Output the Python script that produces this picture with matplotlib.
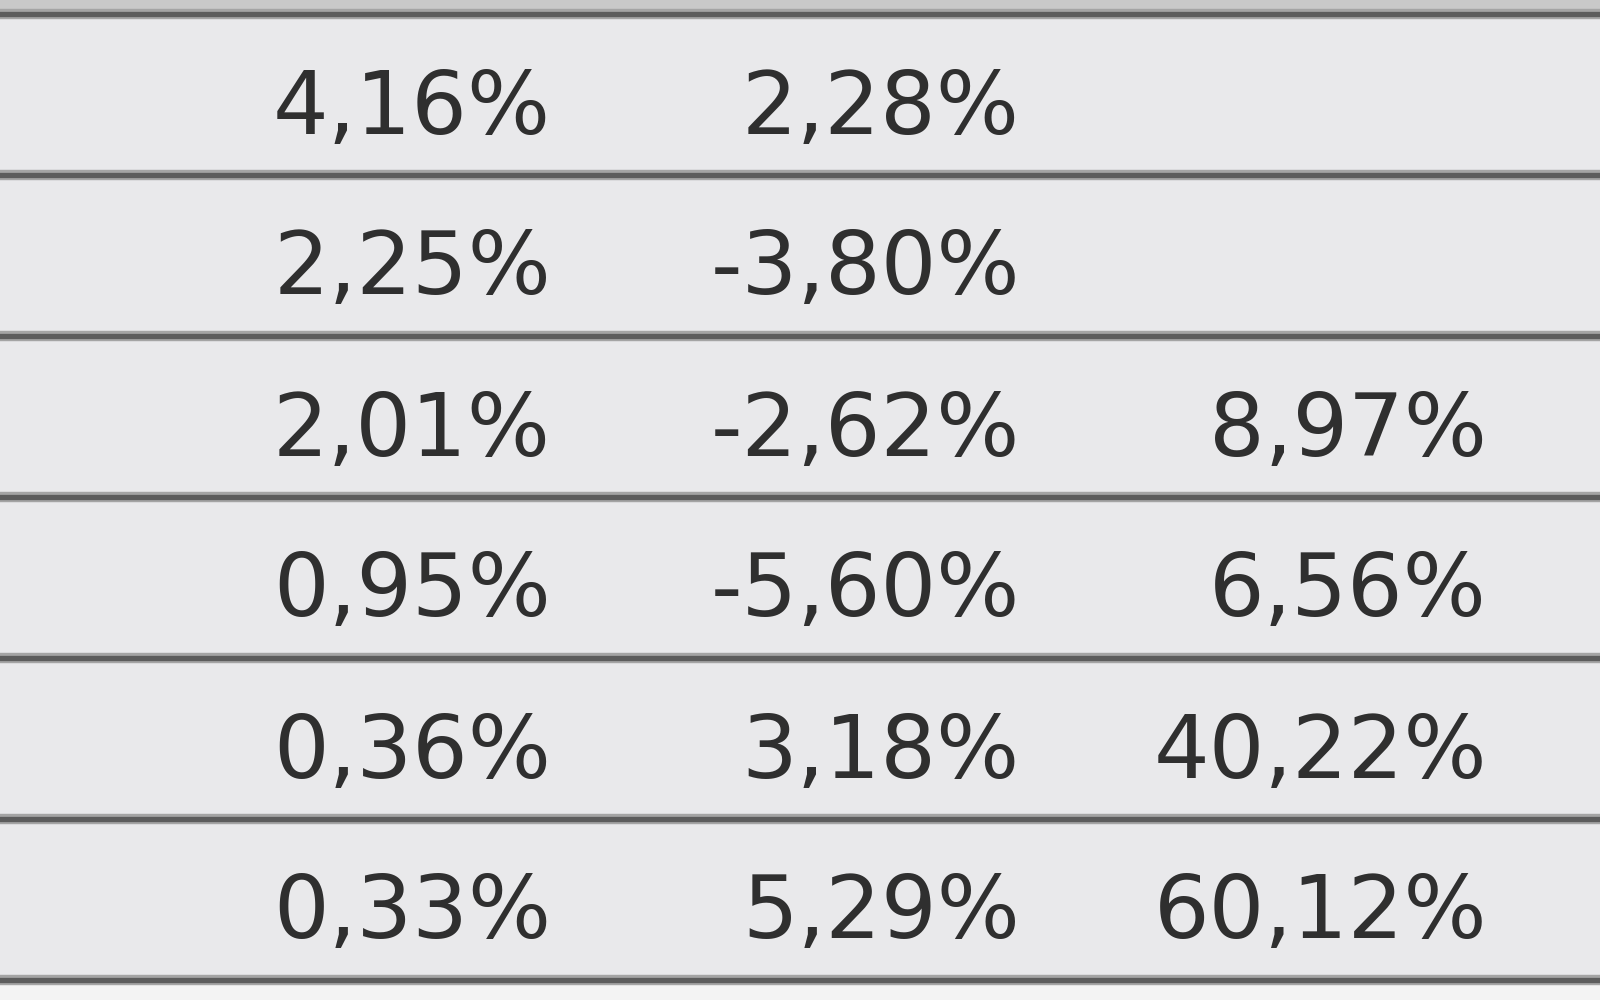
import matplotlib
matplotlib.use("Agg")
import matplotlib.pyplot as plt

col1 = ["4,16%", "2,25%", "2,01%", "0,95%", "0,36%", "0,33%"]
col2 = ["2,28%", "-3,80%", "-2,62%", "-5,60%", "3,18%", "5,29%"]
col3 = ["", "", "8,97%", "6,56%", "40,22%", "60,12%"]

plt.rcParams['font.family'] = ['DejaVu Sans']

fig = plt.figure(figsize=(16, 10), dpi=100)
fig.patch.set_facecolor('#e9e9eb')
ax = fig.add_axes([0, 0, 1, 1])
ax.set_xlim(0, 1600)
ax.set_ylim(1000, 0)
ax.axis('off')

# strips above the first line and below the last one
ax.axhspan(0, 12, color='#c9c9c9', zorder=0)
ax.axhspan(980, 1000, color='#f3f3f3', zorder=0)

top, step = 14, 161
n = len(col1)
for i in range(n + 1):
    y = top + i * step
    ax.axhline(y, color='#a4a4a4', lw=7.5, zorder=1)
    ax.axhline(y, color='#5c5c5c', lw=3.8, zorder=2)

right_edges = [551, 1020, 1487]
for i, row in enumerate(zip(col1, col2, col3)):
    yc = top + i * step + step / 2 + 15
    for x, s in zip(right_edges, row):
        if s:
            ax.text(x, yc, s, ha='right', va='center', fontsize=63,
                    color='#2f2f2f')

fig.savefig("out.png", dpi=100, facecolor=fig.get_facecolor())
